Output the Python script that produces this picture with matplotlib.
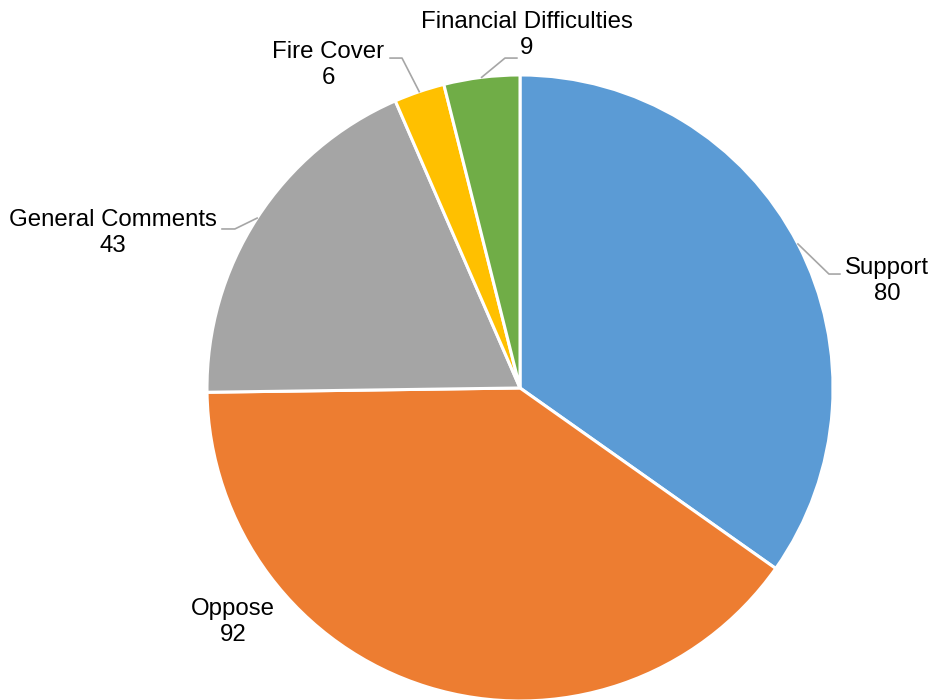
import numpy as np
import matplotlib.pyplot as plt

plt.rcParams['font.family'] = ['Liberation Sans', 'DejaVu Sans']

categories = ['Support', 'Oppose', 'General Comments', 'Fire Cover', 'Financial Difficulties']
values = [80, 92, 43, 6, 9]
colors = ['#5B9BD5', '#ED7D31', '#A5A5A5', '#FFC000', '#70AD47']

# label placement (pie units, radius = 1) and leader-line elbows
label_pos = [(1.173, 0.342), (-0.917, -0.748), (-1.30, 0.495), (-0.613, 1.032), (0.022, 1.128)]
elbows = [[(0.987, 0.364), (1.022, 0.364)],
          None,
          [(-0.911, 0.508), (-0.952, 0.508)],
          [(-0.377, 1.054), (-0.415, 1.054)],
          [(-0.048, 1.054), (-0.010, 1.054)]]

fig = plt.figure(figsize=(9.32, 7), dpi=100)
ax = fig.add_axes([0.2221, -0.0014, 0.6717, 0.8943])

wedges, _ = ax.pie(values, colors=colors, startangle=90, counterclock=False,
                   wedgeprops=dict(edgecolor='white', linewidth=2.2))
ax.set_xlim(-1, 1)
ax.set_ylim(-1, 1)
ax.set_aspect('equal')

for w, name, v, pos, elb in zip(wedges, categories, values, label_pos, elbows):
    mid = np.deg2rad((w.theta1 + w.theta2) / 2)
    if elb is not None:
        xs = [np.cos(mid)] + [p[0] for p in elb]
        ys = [np.sin(mid)] + [p[1] for p in elb]
        ax.plot(xs, ys, color='#A6A6A6', lw=1.2, clip_on=False)
    ax.text(pos[0], pos[1], f'{name}\n{v}', ha='center', va='center',
            fontsize=17.3, color='#000000', linespacing=1.25, clip_on=False)

fig.savefig('out.png', dpi=100)
